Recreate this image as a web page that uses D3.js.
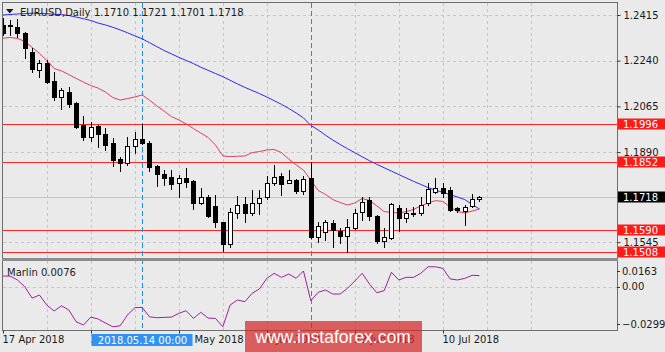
<!DOCTYPE html>
<html>
<head>
<meta charset="utf-8">
<script src="https://cdn.jsdelivr.net/npm/d3@7"></script>
<style>
  html, body { margin: 0; padding: 0; background: #eaeaea; }
  svg { display: block; font-family: "DejaVu Sans", sans-serif; }
</style>
</head>
<body>
<svg id="chart" width="665" height="352"></svg>
<script>
// EURUSD daily, 17 Apr - 17 Jul 2018
const dates = [
  "2018-04-17","2018-04-18","2018-04-19","2018-04-20","2018-04-23","2018-04-24","2018-04-25","2018-04-26","2018-04-27","2018-04-30",
  "2018-05-01","2018-05-02","2018-05-03","2018-05-04","2018-05-07","2018-05-08","2018-05-09","2018-05-10","2018-05-11","2018-05-14",
  "2018-05-15","2018-05-16","2018-05-17","2018-05-18","2018-05-21","2018-05-22","2018-05-23","2018-05-24","2018-05-25","2018-05-28",
  "2018-05-29","2018-05-30","2018-05-31","2018-06-01","2018-06-04","2018-06-05","2018-06-06","2018-06-07","2018-06-08","2018-06-11",
  "2018-06-12","2018-06-13","2018-06-14","2018-06-15","2018-06-18","2018-06-19","2018-06-20","2018-06-21","2018-06-22","2018-06-25",
  "2018-06-26","2018-06-27","2018-06-28","2018-06-29","2018-07-02","2018-07-03","2018-07-04","2018-07-05","2018-07-06","2018-07-09",
  "2018-07-10","2018-07-11","2018-07-12","2018-07-13","2018-07-16","2018-07-17"
];
const opens = [
  1.2377,1.2375,1.2370,1.2345,1.2274,1.2204,1.2232,1.2162,1.2100,1.2121,
  1.2077,1.1994,1.1949,1.1990,1.1958,1.1924,1.1862,1.1849,1.1915,1.1942,
  1.1924,1.1838,1.1806,1.1793,1.1770,1.1790,1.1779,1.1694,1.1719,1.1684,
  1.1621,1.1538,1.1658,1.1691,1.1658,1.1694,1.1717,1.1770,1.1800,1.1770,
  1.1783,1.1742,1.1790,1.1566,1.1585,1.1620,1.1589,1.1569,1.1598,1.1662,
  1.1706,1.1645,1.1551,1.1560,1.1675,1.1636,1.1658,1.1655,1.1694,1.1738,
  1.1751,1.1745,1.1675,1.1665,1.1685,1.1710
];
const highs = [
  1.2404,1.2396,1.2399,1.2351,1.2287,1.2243,1.2243,1.2198,1.2134,1.2138,
  1.2083,1.2028,1.2006,1.1994,1.1981,1.1943,1.1872,1.1949,1.1968,1.1996,
  1.1934,1.1841,1.1821,1.1821,1.1802,1.1828,1.1783,1.1751,1.1726,1.1726,
  1.1624,1.1675,1.1722,1.1718,1.1745,1.1745,1.1798,1.1841,1.1809,1.1821,
  1.1786,1.1798,1.1852,1.1624,1.1630,1.1630,1.1598,1.1633,1.1671,1.1719,
  1.1717,1.1649,1.1598,1.1694,1.1687,1.1675,1.1681,1.1719,1.1770,1.1790,
  1.1770,1.1757,1.1681,1.1687,1.1729,1.1721
];
const lows = [
  1.2338,1.2338,1.2332,1.2249,1.2198,1.2179,1.2156,1.2089,1.2054,1.2062,
  1.1981,1.1936,1.1934,1.1911,1.1898,1.1837,1.1819,1.1841,1.1888,1.1921,
  1.1819,1.1760,1.1764,1.1747,1.1717,1.1757,1.1671,1.1691,1.1643,1.1604,
  1.1510,1.1528,1.1636,1.1622,1.1649,1.1653,1.1709,1.1764,1.1726,1.1770,
  1.1735,1.1729,1.1561,1.1547,1.1553,1.1528,1.1541,1.1508,1.1594,1.1630,
  1.1630,1.1541,1.1525,1.1556,1.1589,1.1623,1.1645,1.1649,1.1687,1.1732,
  1.1717,1.1665,1.1662,1.1611,1.1681,1.1701
];
const closes = [
  1.2346,1.2373,1.2345,1.2287,1.2207,1.2230,1.2160,1.2100,1.2128,1.2074,
  1.1987,1.1949,1.1985,1.1959,1.1917,1.1860,1.1847,1.1913,1.1939,1.1925,
  1.1834,1.1806,1.1790,1.1768,1.1790,1.1777,1.1694,1.1717,1.1645,1.1624,
  1.1538,1.1662,1.1687,1.1658,1.1696,1.1715,1.1773,1.1796,1.1767,1.1783,
  1.1742,1.1786,1.1564,1.1607,1.1624,1.1592,1.1570,1.1602,1.1658,1.1700,
  1.1645,1.1551,1.1566,1.1691,1.1636,1.1658,1.1653,1.1687,1.1748,1.1751,
  1.1734,1.1668,1.1668,1.1681,1.1709,1.1718
];
// short moving average (red) and long moving average (blue)
const maShort = [
  1.2326,1.2329,1.2325,1.2314,1.2291,1.2268,1.2241,1.2210,1.2201,1.2187,
  1.2172,1.2158,1.2145,1.2135,1.2120,1.2099,1.2089,1.2095,1.2101,1.2109,
  1.2089,1.2067,1.2047,1.2026,1.2013,1.1998,1.1980,1.1963,1.1946,1.1917,
  1.1875,1.1873,1.1874,1.1875,1.1888,1.1892,1.1898,1.1900,1.1888,1.1863,
  1.1841,1.1821,1.1783,1.1743,1.1728,1.1708,1.1697,1.1687,1.1695,1.1712,
  1.1705,1.1684,1.1662,1.1659,1.1657,1.1662,1.1670,1.1684,1.1695,1.1704,
  1.1701,1.1680,1.1662,1.1657,1.1664,1.1672
];
const maLong = [
  1.2415,1.2417,1.2419,1.2420,1.2422,1.2421,1.2420,1.2418,1.2416,1.2413,
  1.2407,1.2401,1.2394,1.2384,1.2377,1.2368,1.2358,1.2347,1.2335,1.2324,
  1.2309,1.2294,1.2279,1.2266,1.2253,1.2241,1.2229,1.2215,1.2203,1.2191,
  1.2179,1.2165,1.2151,1.2138,1.2126,1.2114,1.2101,1.2087,1.2073,1.2057,
  1.2040,1.2021,1.1992,1.1975,1.1955,1.1936,1.1919,1.1903,1.1888,1.1872,
  1.1857,1.1843,1.1830,1.1817,1.1804,1.1791,1.1778,1.1766,1.1754,1.1744,
  1.1736,1.1727,1.1718,1.1708,1.1689,1.1672
];
const marlin = [
  0.0073,0.0073,0.0046,-0.0001,-0.0079,-0.0058,-0.0127,-0.0168,-0.0132,-0.0161,
  -0.0242,-0.0265,-0.0210,-0.0223,-0.0251,-0.0277,-0.0270,-0.0196,-0.0145,-0.0143,
  -0.0208,-0.0214,-0.0212,-0.0210,-0.0184,-0.0166,-0.0219,-0.0177,-0.0217,-0.0219,
  -0.0277,-0.0127,-0.0092,-0.0104,-0.0046,-0.0016,0.0057,0.0092,0.0064,0.0087,
  0.0057,0.0108,-0.0097,-0.0039,-0.0023,-0.0051,-0.0051,-0.0012,0.0039,0.0092,
  0.0018,-0.0042,-0.0028,0.0099,0.0046,0.0064,0.0064,0.0092,0.0137,0.0137,
  0.0126,0.0053,0.0046,0.0057,0.0078,0.0076
];
const priceTicks = [1.2415, 1.2240, 1.2065, 1.1890, 1.1545];
const levels = [1.1996, 1.1852, 1.1590, 1.1508];
const lastPrice = 1.1718;
const marlinTicks = [0.0163, 0.00, -0.0299];
const markedDates = ["2018-05-14", "2018-06-14"];
const labelDates = ["2018-04-17", "2018-05-03", "2018-05-21", "2018-06-06", "2018-06-22", "2018-07-10"];
const header = { symbol: "EURUSD,Daily", ohlc: "1.1710 1.1721 1.1701 1.1718" };

(function () {
    const svg = d3.select('#chart');
    const L = 3, R = 617, top = 3, mainBottom = 258, indTop = 261, indBottom = 330;

    const x = d3.scaleLinear().domain([0, 60]).range([2.8, 442.8]);
    const y = d3.scaleLinear().domain([1.14843, 1.24610]).range([mainBottom, top]);
    const yi = d3.scaleLinear().domain([-0.0299, 0.0163]).range([indBottom, 263]);
    const px = i => Math.round(x(i));
    const idxOf = d => dates.indexOf(d);
    const parse = d3.timeParse('%Y-%m-%d');
    const fmtDay = d3.timeFormat('%-d %b %Y');
    const f4 = d3.format('.4f');
    const markedIdx = markedDates.map(idxOf);

    svg.append('rect').attr('width', 665).attr('height', 352).attr('fill', '#eaeaea');

    const defs = svg.append('defs');
    defs.append('clipPath').attr('id', 'clipMain')
        .append('rect').attr('x', L).attr('y', top).attr('width', R - L).attr('height', mainBottom - top);
    defs.append('clipPath').attr('id', 'clipInd')
        .append('rect').attr('x', L).attr('y', indTop).attr('width', R - L).attr('height', indBottom - indTop);

    // vertical grid, every 6 bars (a marked line replaces the grid line)
    const gridIdx = d3.range(6, 75, 6).filter(i => markedIdx.indexOf(i) < 0);
    const grid = svg.append('g').attr('stroke', '#c6c6c6').attr('stroke-dasharray', '3,3');
    gridIdx.forEach(i => {
        if (x(i) >= R) return;
        grid.append('line').attr('x1', px(i) + 0.5).attr('x2', px(i) + 0.5).attr('y1', top).attr('y2', mainBottom);
        grid.append('line').attr('x1', px(i) + 0.5).attr('x2', px(i) + 0.5).attr('y1', indTop).attr('y2', indBottom);
    });
    priceTicks.forEach(p => {
        const yy = Math.round(y(p)) + 0.5;
        grid.append('line').attr('x1', L).attr('x2', R).attr('y1', yy).attr('y2', yy);
    });
    grid.append('line').attr('x1', L).attr('x2', R)
        .attr('y1', Math.round(yi(0)) + 0.5).attr('y2', Math.round(yi(0)) + 0.5);

    // current price line
    svg.append('line').attr('x1', L).attr('x2', R)
        .attr('y1', Math.round(y(lastPrice)) + 0.5).attr('y2', Math.round(y(lastPrice)) + 0.5)
        .attr('stroke', '#c4c4c4');

    // horizontal levels
    svg.append('g').selectAll('line').data(levels).enter().append('line')
        .attr('x1', L).attr('x2', R)
        .attr('y1', d => Math.round(y(d)) + 0.5).attr('y2', d => Math.round(y(d)) + 0.5)
        .attr('stroke', '#ff2626').attr('stroke-width', 1.2);

    // marked vertical lines
    svg.append('g').selectAll('line').data(markedIdx).enter().append('line')
        .attr('x1', i => px(i) + 0.5).attr('x2', i => px(i) + 0.5)
        .attr('y1', top).attr('y2', indBottom)
        .attr('stroke', '#1a8cff').attr('stroke-dasharray', '5,3');

    const main = svg.append('g').attr('clip-path', 'url(#clipMain)');

    const line = arr => d3.line().x((d, i) => x(i)).y(d => y(d))(arr);
    main.append('path').attr('d', line(maLong)).attr('fill', 'none').attr('stroke', '#2b2bf0').attr('stroke-width', 1);
    main.append('path').attr('d', line(maShort)).attr('fill', 'none').attr('stroke', '#e0405e').attr('stroke-width', 1);

    // candles
    const candles = main.append('g');
    dates.forEach((d, i) => {
        const cx = px(i);
        const yo = Math.round(y(opens[i])), yc = Math.round(y(closes[i]));
        const yh = Math.round(y(highs[i])), yl = Math.round(y(lows[i]));
        candles.append('line').attr('x1', cx + 0.5).attr('x2', cx + 0.5)
            .attr('y1', yh).attr('y2', yl + 1).attr('stroke', '#000');
        const bTop = Math.min(yo, yc), bBot = Math.max(yo, yc);
        if (closes[i] >= opens[i]) {
            candles.append('rect').attr('x', cx - 1.5).attr('y', bTop + 0.5)
                .attr('width', 4).attr('height', Math.max(bBot - bTop, 1))
                .attr('fill', '#fff').attr('stroke', '#000');
        } else {
            candles.append('rect').attr('x', cx - 2).attr('y', bTop)
                .attr('width', 5).attr('height', Math.max(bBot - bTop + 1, 2))
                .attr('fill', '#000');
        }
    });

    // Marlin indicator
    svg.append('g').attr('clip-path', 'url(#clipInd)')
        .append('path')
        .attr('d', d3.line().x((d, i) => x(i)).y(d => yi(d))(marlin))
        .attr('fill', 'none').attr('stroke', '#a0209f').attr('stroke-width', 1);

    // frame
    const frame = svg.append('g').attr('stroke', '#6e6e6e').attr('fill', 'none');
    frame.append('rect').attr('x', L - 0.5).attr('y', top - 0.5).attr('width', R - L + 1).attr('height', mainBottom - top + 1);
    frame.append('rect').attr('x', L - 0.5).attr('y', indTop - 0.5).attr('width', R - L + 1).attr('height', indBottom - indTop + 1);
    svg.append('rect').attr('x', L - 1).attr('y', mainBottom).attr('width', R - L + 2).attr('height', indTop - mainBottom)
        .attr('fill', '#8c8c8c');

    // price axis
    const yAxis = svg.append('g').attr('transform', `translate(${R + 0.5},0)`)
        .call(d3.axisRight(y).tickValues(priceTicks).tickFormat(f4).tickSize(3).tickPadding(3));
    yAxis.select('.domain').remove();
    yAxis.selectAll('line').attr('stroke', '#333');
    yAxis.selectAll('text').attr('font-size', 10).attr('fill', '#1a1a1a').attr('font-family', '"DejaVu Sans", sans-serif');

    // level labels
    const boxes = svg.append('g');
    levels.forEach(p => {
        const yy = Math.round(y(p));
        boxes.append('rect').attr('x', R + 1).attr('y', yy - 5.5).attr('width', 665 - R).attr('height', 11).attr('fill', '#ff1a1a');
        boxes.append('text').attr('x', R + 6).attr('y', yy).attr('dy', '0.36em')
            .attr('font-size', 10).attr('fill', '#fff').text(f4(p));
    });
    const ly = Math.round(y(lastPrice));
    boxes.append('rect').attr('x', R + 1).attr('y', ly - 5.5).attr('width', 665 - R).attr('height', 11).attr('fill', '#000');
    boxes.append('text').attr('x', R + 6).attr('y', ly).attr('dy', '0.36em')
        .attr('font-size', 10).attr('fill', '#fff').text(f4(lastPrice));

    // indicator axis labels
    const ind = svg.append('g');
    marlinTicks.forEach(v => {
        const yy = Math.min(Math.max(yi(v), indTop + 10), indBottom - 6);
        ind.append('line').attr('x1', R).attr('x2', R + 3).attr('y1', Math.round(yy) + 0.5).attr('y2', Math.round(yy) + 0.5).attr('stroke', '#333');
        ind.append('text').attr('x', R + 5).attr('y', yy).attr('dy', '0.36em')
            .attr('font-size', 10).attr('fill', '#1a1a1a').text(v === 0 ? '0.00' : f4(v));
    });
    ind.append('text').attr('x', 7).attr('y', 275.5).attr('font-size', 10).attr('fill', '#1a1a1a')
        .text('Marlin ' + f4(marlin[marlin.length - 1]));

    // time axis
    const xAxis = svg.append('g').attr('transform', `translate(0,${indBottom + 0.5})`)
        .call(d3.axisBottom(x).tickValues(labelDates.map(idxOf))
            .tickFormat(i => fmtDay(parse(dates[i]))).tickSize(3).tickPadding(2));
    xAxis.select('.domain').remove();
    xAxis.selectAll('.tick').attr('transform', d => `translate(${px(d) + 0.5},0)`);
    xAxis.selectAll('line').attr('stroke', '#333');
    xAxis.selectAll('text').attr('font-size', 10).attr('fill', '#1a1a1a').attr('text-anchor', 'start')
        .attr('x', -1).attr('font-family', '"DejaVu Sans", sans-serif');

    // date label of the first marked line
    const mx = px(markedIdx[0]) + 0.5;
    svg.append('rect').attr('x', mx - 51).attr('y', 334).attr('width', 101).attr('height', 12).attr('fill', '#3192f5');
    svg.append('text').attr('x', mx).attr('y', 343.5).attr('text-anchor', 'middle')
        .attr('font-size', 10).attr('fill', '#fff').text(markedDates[0].replace(/-/g, '.') + ' 00:00');

    // header
    svg.append('path').attr('d', 'M6,9 L13.5,9 L9.75,13.5 Z').attr('fill', '#1a1a1a');
    svg.append('text').attr('x', 20).attr('y', 16).attr('font-size', 10).attr('fill', '#1a1a1a').text(header.symbol);
    svg.append('text').attr('x', 94).attr('y', 16).attr('font-size', 10).attr('fill', '#1a1a1a').text(header.ohlc);

    // watermark
    svg.append('rect').attr('x', 245).attr('y', 321).attr('width', 177).attr('height', 31)
        .attr('fill', 'rgb(214,40,40)').attr('fill-opacity', 0.72);
    svg.append('text').attr('x', 333).attr('y', 343).attr('text-anchor', 'middle')
        .attr('font-family', '"Liberation Sans", Arial, sans-serif').attr('font-size', 17.5)
        .attr('fill', '#fff').text('www.instaforex.com');
})();
</script>
</body>
</html>
